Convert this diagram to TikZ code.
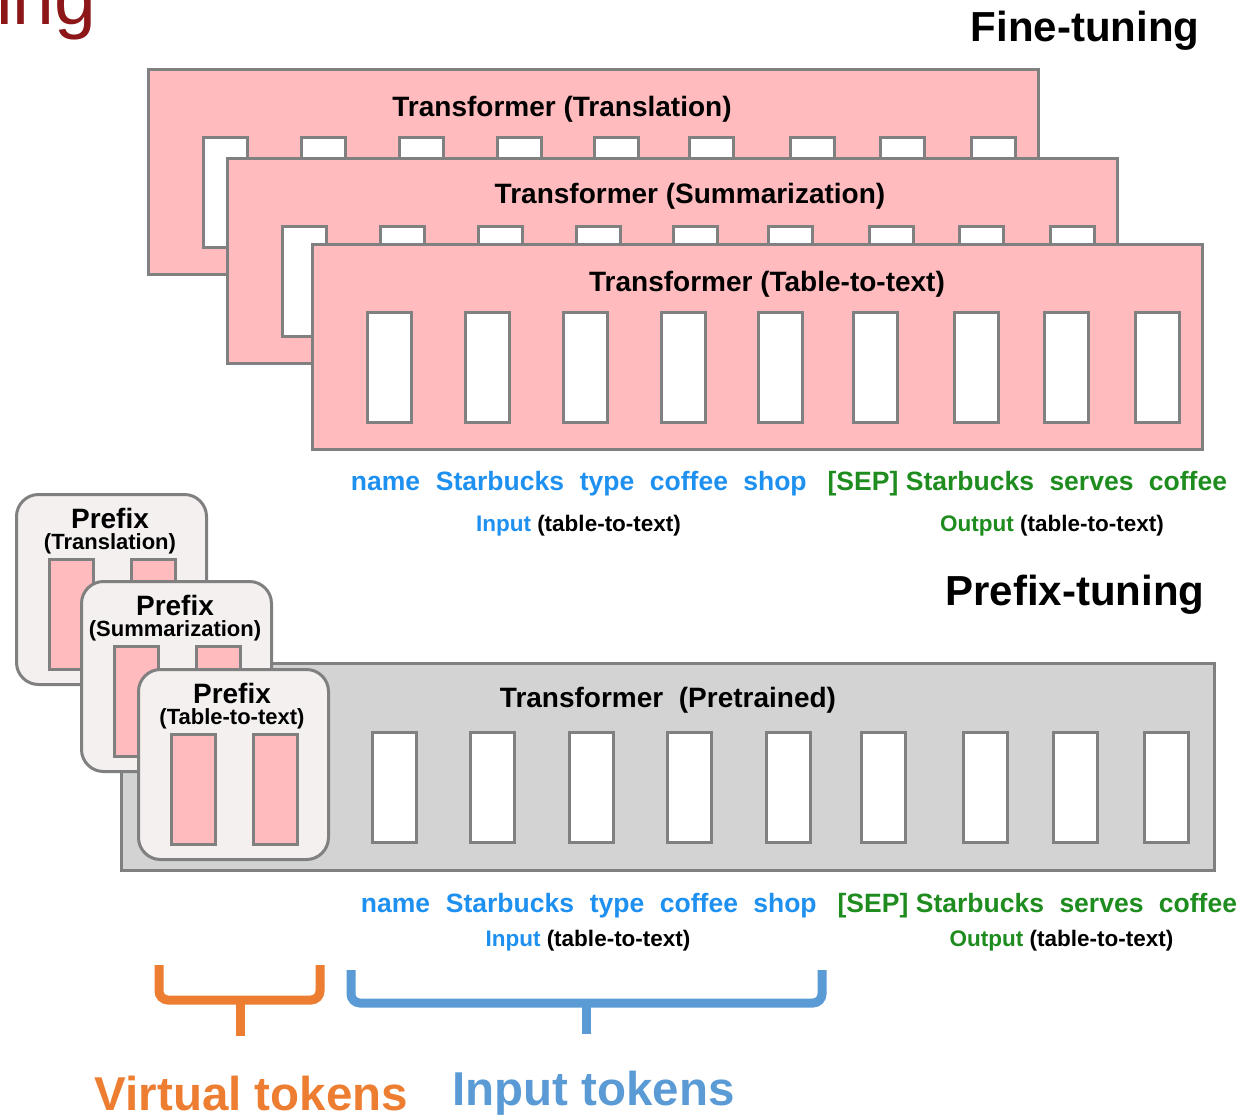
\documentclass[tikz,border=0pt]{standalone}
\usepackage{fontspec}
\setmainfont{Liberation Sans}
\definecolor{edgegray}{RGB}{128,128,128}
\definecolor{ftpink}{RGB}{255,187,190}
\definecolor{ptgray}{RGB}{211,211,211}
\definecolor{pfill}{RGB}{245,240,240}
\definecolor{inblue}{RGB}{30,144,240}
\definecolor{outgreen}{RGB}{30,140,30}
\definecolor{vtorange}{RGB}{237,125,49}
\definecolor{itblue}{RGB}{91,155,213}
\definecolor{headred}{RGB}{140,22,24}
\begin{document}
\begin{tikzpicture}[x=1pt,y=-1pt,
  tbox/.style={rectangle,draw=edgegray,line width=3pt,fill=ftpink,inner sep=0pt,
    anchor=north west,minimum width=890pt,minimum height=205pt},
  gbox/.style={tbox,fill=ptgray,minimum width=1093pt,minimum height=207pt},
  tok/.style={rectangle,draw=edgegray,line width=2.5pt,fill=white,inner sep=0pt,
    anchor=north west,minimum width=44pt,minimum height=110pt},
  ptok/.style={tok,fill=ftpink},
  pbox/.style={rectangle,rounded corners=22pt,draw=edgegray,line width=3pt,fill=pfill,
    inner sep=0pt,anchor=north west,minimum width=190pt,minimum height=190pt},
  ttitle/.style={anchor=base,inner sep=0pt,font=\bfseries\fontsize{28}{30}\selectfont},
  ptitle/.style={anchor=base,inner sep=0pt,font=\bfseries\fontsize{28}{30}\selectfont},
  psub/.style={anchor=base,inner sep=0pt,font=\bfseries\fontsize{22}{24}\selectfont},
  word/.style={anchor=base,inner sep=0pt,font=\bfseries\fontsize{26.5}{28}\selectfont},
  lab/.style={anchor=base,inner sep=0pt,font=\bfseries\fontsize{22.5}{24}\selectfont},
  head/.style={anchor=base,inner sep=0pt,font=\bfseries\fontsize{42}{44}\selectfont},
  big/.style={anchor=base,inner sep=0pt,font=\bfseries\fontsize{47.5}{50}\selectfont},
  brace/.style={line width=9pt,rounded corners=9pt}
]
\useasboundingbox (0,0) rectangle (1260,1116);

% heading fragment running off the top left corner
\node[anchor=base west,inner sep=0pt,text=headred,font=\fontsize{75}{80}\selectfont] (hd) at (-4,25) {ing};

% ---------------- Fine-tuning: one full transformer per task ----------------
\node[head] (fthead) at (1085,42) {Fine-tuning};
\foreach \bx/\by/\tx/\ty/\nm/\lbl in {147/68/562/116/a/Translation,
    226/157/690/203/b/Summarization, 311/243/767/291/c/Table-to-text}{
  \node[tbox] (ft\nm) at (\bx,\by) {};
  \foreach \dx [count=\i] in {55,153,251,349,446,541,642,732,823}
    \node[tok] (ft\nm t\i) at (\bx+\dx,\by+68) {};
  \node[ttitle] (ft\nm title) at (\tx,\ty) {Transformer (\lbl)};
}

% token sequence under the fine-tuning stack
\foreach \w/\cx/\col [count=\i] in {name/385.5/inblue, Starbucks/500/inblue,
    type/607/inblue, coffee/689/inblue, shop/775/inblue, {[SEP]}/863/outgreen,
    Starbucks/970/outgreen, serves/1091.5/outgreen, coffee/1188/outgreen}
  \node[word,text=\col] (wa\i) at (\cx,490) {\w};
\node[lab] (ina) at (578.5,531) {\textcolor{inblue}{Input} (table-to-text)};
\node[lab] (outa) at (1052,531) {\textcolor{outgreen}{Output} (table-to-text)};

% ---------------- Prefix-tuning: shared pretrained transformer ----------------
\node[head] (pthead) at (1075,605) {Prefix-tuning};
\node[gbox] (pt) at (120,662) {};
\foreach \tx [count=\i] in {371,469,568,666,765,860,962,1052,1143}
  \node[tok] (ptt\i) at (\tx,731) {};
\node[ttitle] (pttitle) at (668,707) {Transformer\ \ (Pretrained)};

% task-specific prefixes
\foreach \bx/\by/\nm/\lbl in {15/493/a/Translation, 80/580/b/Summarization,
    137/668/c/Table-to-text}{
  \node[pbox] (pf\nm) at (\bx,\by) {};
  \node[ptok] (pf\nm t1) at (\bx+33,\by+65) {};
  \node[ptok] (pf\nm t2) at (\bx+115,\by+65) {};
  \node[ptitle] (pf\nm title) at (\bx+95,\by+35) {Prefix};
  \node[psub] (pf\nm sub) at (\bx+95,\by+56) {(\lbl)};
}

% token sequence under the prefix-tuning model
\foreach \w/\cx/\col [count=\i] in {name/395.5/inblue, Starbucks/510/inblue,
    type/617/inblue, coffee/699/inblue, shop/785/inblue, {[SEP]}/873/outgreen,
    Starbucks/980/outgreen, serves/1101.5/outgreen, coffee/1198/outgreen}
  \node[word,text=\col] (wb\i) at (\cx,912) {\w};
\node[lab] (inb) at (588,946) {\textcolor{inblue}{Input} (table-to-text)};
\node[lab] (outb) at (1061.5,946) {\textcolor{outgreen}{Output} (table-to-text)};

% braces marking virtual and input tokens
\coordinate (vl) at (159,965);
\coordinate (vr) at (320,965);
\coordinate (vm) at (240,1000);
\coordinate (vs) at (240,1036);
\draw[brace,vtorange] (vl) |- (vm) -| (vr);
\draw[vtorange,line width=9pt] (vm) -- (vs);
\coordinate (il) at (351,970);
\coordinate (ir) at (822,970);
\coordinate (im) at (586,1003);
\coordinate (is) at (586,1034);
\draw[brace,itblue] (il) |- (im) -| (ir);
\draw[itblue,line width=9pt] (im) -- (is);

\node[big,text=vtorange] (vt) at (251.5,1110) {Virtual tokens};
\node[big,text=itblue] (it) at (593.5,1105) {Input tokens};
\end{tikzpicture}
\end{document}
